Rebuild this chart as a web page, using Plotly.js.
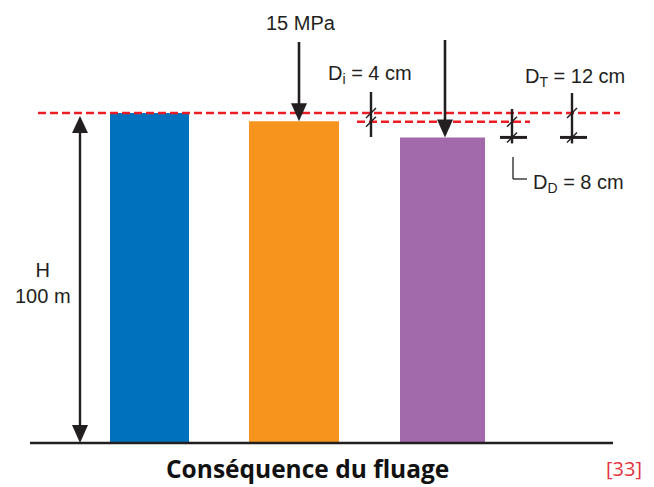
<!DOCTYPE html>
<html>
<head>
<meta charset="utf-8">
<script src="https://cdn.plot.ly/plotly-3.0.1.min.js"></script>
<style>html,body{margin:0;padding:0;background:#fff;}#chart{width:654px;height:487px;}</style>
</head>
<body>
<div id="chart"></div>
<script>
// ---- data (schematic heights, H = 100 m reference) ----
const categories = ["Initial", "Déformation instantanée", "Déformation différée"];
const heights = [100, 97.5, 92.6];
const barColors = ["#0071bc", "#f7941d", "#a26aab"];
const loadLabel = "15 MPa";
const heightLabel = "H<br>100 m";
const Di = 4, DD = 8, DT = 12;
const titleText = "Conséquence du fluage";
const refText = "[33]";

// ---- geometry helpers (pixel <-> paper / data) ----
const W = 654, Hh = 487;
const base = 443, pxPerUnit = 3.3;        // y = 0 at 443 px
const c0 = 149.5, step = 146.5;          // category 0 centre, spacing
const PX = p => p / W;
const PY = p => 1 - p / Hh;
const vpx = v => base - pxPerUnit * v;     // value -> pixel row
const ink = "#231f20", red = "#ee1c25";

const shapes = [];
function line(x0, y0, x1, y1, w, color, dash) {
  shapes.push({type: "line", xref: "paper", yref: "paper",
    x0: PX(x0), y0: PY(y0), x1: PX(x1), y1: PY(y1),
    line: {color: color || ink, width: w, dash: dash || "solid"}});
}
function tri(pts) {
  let d = pts.map((p, i) => (i ? "L" : "M") + PX(p[0]) + "," + PY(p[1])).join(" ") + " Z";
  shapes.push({type: "path", xref: "paper", yref: "paper", path: d,
    fillcolor: ink, line: {color: ink, width: 0}});
}
function arrowDown(x, yTop, yTip) {
  line(x, yTop, x, yTip - 14, 2.6);
  tri([[x - 8, yTip - 18], [x + 8, yTip - 18], [x, yTip]]);
}
function slash(x, y) { line(x - 5, y + 5, x + 5, y - 5, 1.4); }

const topBlue = vpx(heights[0]), topOrange = vpx(heights[1]), topPurple = vpx(heights[2]);

// baseline
line(30, base, 613, base, 2.6);
// reference dashed lines
line(38, topBlue, 620, topBlue, 2.4, red, "8px,4px");
line(357, topOrange + 0.5, 530, topOrange + 0.5, 2.4, red, "8px,4px");
// H double arrow
line(80, topBlue + 14, 80, base - 14, 2.4);
tri([[72, topBlue + 20], [88, topBlue + 20], [80, topBlue + 3]]);
tri([[72, base - 18], [88, base - 18], [80, base]]);
// load arrows
arrowDown(299, 42, topOrange);
arrowDown(445, 40, topPurple);
// Di marker
line(371, 92, 371, 137, 2.4);
slash(371, topBlue); slash(371, topOrange + 0.5);
// DD marker
line(512, 109, 512, topPurple + 6, 2.4);
line(500, topPurple, 527, topPurple, 3);
slash(512, topOrange + 0.5); slash(512, topPurple);
// DT marker
line(572, 93, 572, topPurple + 6, 2.4);
line(560, topPurple, 587, topPurple, 3);
slash(572, topBlue); slash(572, topPurple);
// DD bracket
line(513, 157, 513, 179, 1.3);
line(513, 179, 527, 179, 1.3);

const f = {family: "Liberation Sans, Arial, sans-serif", size: 20, color: ink};
function txt(text, x, y, xa, extra) {
  return Object.assign({text: text, xref: "paper", yref: "paper", x: PX(x), y: PY(y),
    xanchor: xa || "left", yanchor: "middle", showarrow: false, font: f}, extra || {});
}
const annotations = [
  txt(loadLabel, 301, 23, "center"),
  txt("D<sub>i</sub> = " + Di + " cm", 326, 74, "left"),
  txt("D<sub>T</sub> = " + DT + " cm", 523, 77, "left"),
  txt("D<sub>D</sub> = " + DD + " cm", 531, 183, "left"),
  txt(heightLabel, 43, 283, "center", {align: "center"}),
  txt("<b>" + titleText + "</b>", 307, 468, "center",
      {font: {family: "Open Sans, sans-serif", size: 24.5, color: "#111", weight: 800}}),
  txt(refText, 624, 468, "center",
      {font: {family: "Open Sans, sans-serif", size: 20, color: "#e2333f"}})
];

const trace = {
  type: "bar", x: categories, y: heights,
  width: [79 / step, 90 / step, 85 / step],
  offset: [-39.5 / step, -47 / step, -42.5 / step],
  marker: {color: barColors, line: {width: 0}},
  hoverinfo: "skip"
};

const layout = {
  width: W, height: Hh,
  margin: {l: 0, r: 0, t: 0, b: 0},
  paper_bgcolor: "#fff", plot_bgcolor: "#fff",
  showlegend: false,
  xaxis: {type: "category", range: [-c0 / step, (W - c0) / step], visible: false, fixedrange: true},
  yaxis: {range: [-(Hh - base) / pxPerUnit, base / pxPerUnit], visible: false, fixedrange: true},
  shapes: shapes,
  annotations: annotations
};

Plotly.newPlot("chart", [trace], layout, {staticPlot: true, displayModeBar: false});
</script>
</body>
</html>
